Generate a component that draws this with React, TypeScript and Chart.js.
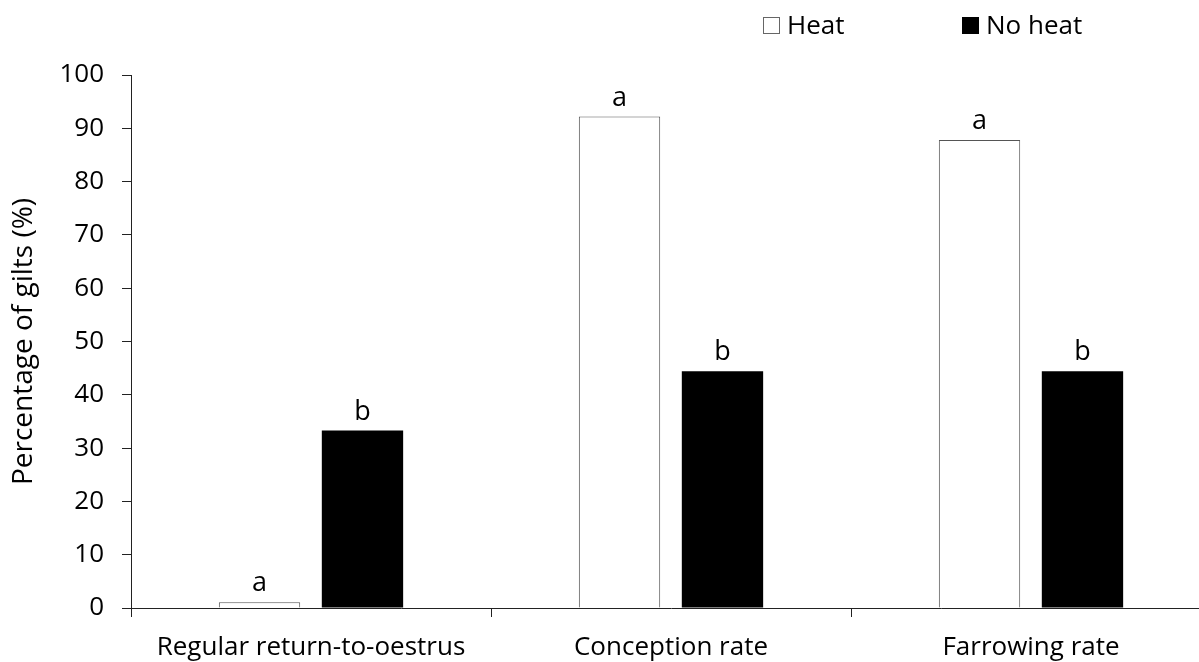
import React, { useEffect, useRef } from "react";
import { Chart, registerables } from "chart.js";

Chart.register(...registerables);

const categories = ["Regular return-to-oestrus", "Conception rate", "Farrowing rate"];
const seriesNames = ["Heat", "No heat"];
const heatValues = [1.1, 92.2, 87.8];
const noHeatValues = [33.3, 44.4, 44.4];
const heatLetters = ["a", "a", "a"];
const noHeatLetters = ["b", "b", "b"];
const yMin = 0;
const yMax = 100;
const yStep = 10;

const FONT = "'Open Sans'";

const lettersPlugin = {
  id: "sigLetters",
  afterDatasetsDraw(chart: any) {
    const ctx = chart.ctx;
    const letterSets = [heatLetters, noHeatLetters];
    ctx.save();
    ctx.font = `27px ${FONT}`;
    ctx.fillStyle = "#000";
    ctx.textAlign = "center";
    ctx.textBaseline = "alphabetic";
    chart.data.datasets.forEach((_ds: any, i: number) => {
      const meta = chart.getDatasetMeta(i);
      meta.data.forEach((bar: any, j: number) => {
        ctx.fillText(letterSets[i][j], bar.x, bar.y - 11);
      });
    });
    ctx.restore();
  },
};

const legendPlugin = {
  id: "customLegend",
  afterDraw(chart: any) {
    const ctx = chart.ctx;
    const starts = [763, 962];
    const box = 17;
    const baseline = 34;
    ctx.save();
    ctx.font = `26px ${FONT}`;
    ctx.textBaseline = "alphabetic";
    ctx.textAlign = "left";
    chart.data.datasets.forEach((ds: any, i: number) => {
      const x = starts[i];
      ctx.fillStyle = ds.backgroundColor;
      ctx.fillRect(x, baseline - box, box, box);
      ctx.strokeStyle = i === 0 ? "#666" : "#000";
      ctx.lineWidth = 1;
      ctx.strokeRect(x + 0.5, baseline - box + 0.5, box - 1, box - 1);
      ctx.fillStyle = "#000";
      ctx.fillText(ds.label, x + box + 7, baseline);
    });
    ctx.restore();
  },
};

export default function App() {
  const ref = useRef<HTMLCanvasElement | null>(null);
  useEffect(() => {
    if (!ref.current) return;
    const chart = new Chart(ref.current, {
      type: "bar",
      data: {
        labels: categories,
        datasets: [
          {
            label: seriesNames[0],
            data: heatValues,
            backgroundColor: "#ffffff",
            borderColor: "#555555",
            borderWidth: 1,
          },
          {
            label: seriesNames[1],
            data: noHeatValues,
            backgroundColor: "#000000",
            borderColor: "#000000",
            borderWidth: 0,
          },
        ],
      },
      plugins: [lettersPlugin, legendPlugin],
      options: {
        responsive: false,
        animation: false,
        categoryPercentage: 0.572,
        barPercentage: 0.79,
        layout: { padding: { top: 75, right: 4, left: 0, bottom: 0 } },
        plugins: {
          legend: { display: false },
          tooltip: { enabled: false },
        },
        scales: {
          x: {
            grid: {
              display: true,
              drawOnChartArea: false,
              offset: true,
              tickLength: 9,
              color: "#222",
            },
            border: { display: true, color: "#222", width: 1 },
            ticks: {
              color: "#000",
              font: { family: FONT, size: 26 },
              padding: 15,
              maxRotation: 0,
              autoSkip: false,
            },
            afterFit: (scale: any) => {
              scale.height = 54;
            },
          },
          y: {
            min: yMin,
            max: yMax,
            grid: {
              display: true,
              drawOnChartArea: false,
              tickLength: 9,
              color: "#222",
            },
            border: { display: true, color: "#222", width: 1 },
            ticks: {
              stepSize: yStep,
              color: "#000",
              font: { family: FONT, size: 26 },
              padding: 18,
            },
            title: {
              display: true,
              text: "Percentage of gilts (%)",
              color: "#000",
              font: { family: FONT, size: 28 },
              padding: { top: 7, bottom: 0 },
            },
            afterFit: (scale: any) => {
              scale.width = 131;
            },
          },
        },
      },
    });
    return () => chart.destroy();
  }, []);
  return (
    <div
      style={{
        position: "absolute",
        left: 0,
        top: 0,
        width: 1199,
        height: 662,
        overflow: "hidden",
        background: "#fff",
      }}
    >
      <canvas ref={ref} width={1215} height={662} style={{ display: "block" }} />
    </div>
  );
}
